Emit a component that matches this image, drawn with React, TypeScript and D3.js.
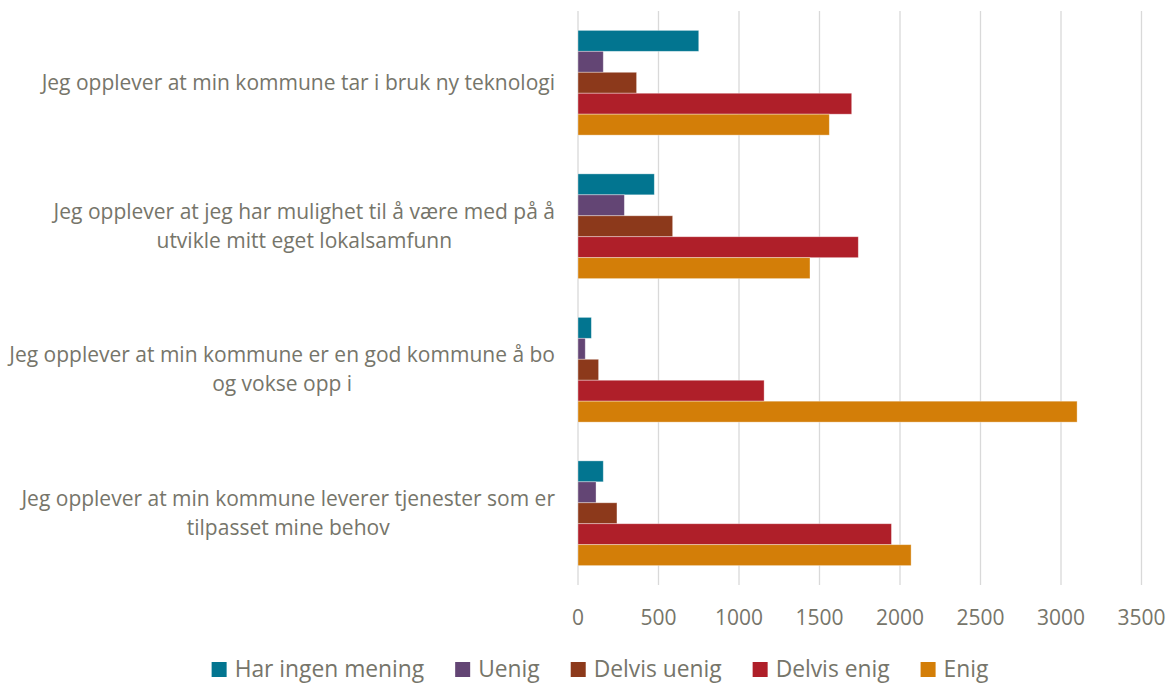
import React, { useEffect, useRef } from "react";
import * as d3 from "d3";

const categories = [
  "Jeg opplever at min kommune tar i bruk ny teknologi",
  "Jeg opplever at jeg har mulighet til å være med på å\nutvikle mitt eget lokalsamfunn",
  "Jeg opplever at min kommune er en god kommune å bo\nog vokse opp i",
  "Jeg opplever at min kommune leverer tjenester som er\ntilpasset mine behov",
];
const seriesNames = ["Har ingen mening", "Uenig", "Delvis uenig", "Delvis enig", "Enig"];
const harIngenMening = [750, 474, 83, 157];
const uenig = [157, 288, 45, 112];
const delvisUenig = [364, 588, 128, 242];
const delvisEnig = [1700, 1741, 1156, 1947];
const enig = [1561, 1441, 3100, 2069];
const seriesColors = ["#027590", "#634574", "#8c391b", "#af1f29", "#d37e08"];
const xTicks = [0, 500, 1000, 1500, 2000, 2500, 3000, 3500];

const W = 1170;
const H = 684;
const FONT = "'Open Sans', Lato, sans-serif";
const TEXT = "#76756a";

export default function App() {
  const ref = useRef<SVGSVGElement>(null);
  useEffect(() => {
    const svg = d3.select(ref.current);
    svg.selectAll("*").remove();
    const values = [harIngenMening, uenig, delvisUenig, delvisEnig, enig];

    const x = d3.scaleLinear().domain([0, 3500]).range([578, 1141.5]);
    const y = d3.scaleBand<string>().domain(categories).range([11, 585]).paddingInner(0.27).paddingOuter(0.135);
    const ys = d3.scaleBand<string>().domain(seriesNames).range([0, y.bandwidth()]);

    // gridlines
    svg.append("g").selectAll("line").data(xTicks).join("line")
      .attr("x1", (d) => x(d)).attr("x2", (d) => x(d))
      .attr("y1", 11).attr("y2", 585)
      .attr("stroke", "#d9d9d9").attr("stroke-width", 1.3);

    // bars
    const g = svg.append("g");
    categories.forEach((c, ci) => {
      seriesNames.forEach((s, si) => {
        const v = values[si][ci];
        g.append("rect")
          .attr("x", x(0))
          .attr("y", (y(c) as number) + (ys(s) as number))
          .attr("width", x(v) - x(0))
          .attr("height", ys.bandwidth())
          .attr("fill", seriesColors[si])
          .attr("stroke", "rgba(255,255,255,0.45)")
          .attr("stroke-width", 0.8);
      });
    });

    // tick labels
    svg.append("g").selectAll("text").data(xTicks).join("text")
      .attr("x", (d) => x(d)).attr("y", 625)
      .attr("text-anchor", "middle")
      .attr("font-family", FONT).attr("font-size", 21)
      .attr("fill", TEXT).text((d) => String(d));

    // category labels
    const lab = svg.append("g");
    categories.forEach((c) => {
      const lines = c.split("\n");
      const cy = (y(c) as number) + y.bandwidth() / 2;
      const lh = 29;
      const t = lab.append("text")
        .attr("font-family", FONT).attr("font-size", 21).attr("fill", TEXT)
        .attr("text-anchor", "middle");
      const tspans = lines.map((ln, i) =>
        t.append("tspan").attr("y", cy + (i - (lines.length - 1) / 2) * lh + 7).text(ln)
      );
      const maxW = d3.max(tspans, (ts) => (ts.node() as SVGTSpanElement).getComputedTextLength()) || 0;
      const center = 555 - maxW / 2;
      tspans.forEach((ts) => ts.attr("x", center));
    });

    // legend
    const leg = svg.append("g");
    const items: { g: any; w: number }[] = [];
    seriesNames.forEach((s, i) => {
      const gi = leg.append("g");
      gi.append("rect").attr("x", 0).attr("y", 662).attr("width", 15).attr("height", 15).attr("fill", seriesColors[i]);
      const t = gi.append("text").attr("x", 23).attr("y", 677)
        .attr("font-family", FONT).attr("font-size", 22.8).attr("fill", TEXT).text(s);
      const w = 23 + (t.node() as SVGTextElement).getComputedTextLength();
      items.push({ g: gi, w });
    });
    const gap = 31;
    const total = d3.sum(items, (d) => d.w) + gap * (items.length - 1);
    let cx = 600 - total / 2;
    items.forEach((it) => {
      it.g.attr("transform", `translate(${cx},0)`);
      cx += it.w + gap;
    });
  }, []);
  return (
    <svg ref={ref} width={W} height={H} style={{ position: "absolute", left: 0, top: 0, background: "#fff" }} />
  );
}
